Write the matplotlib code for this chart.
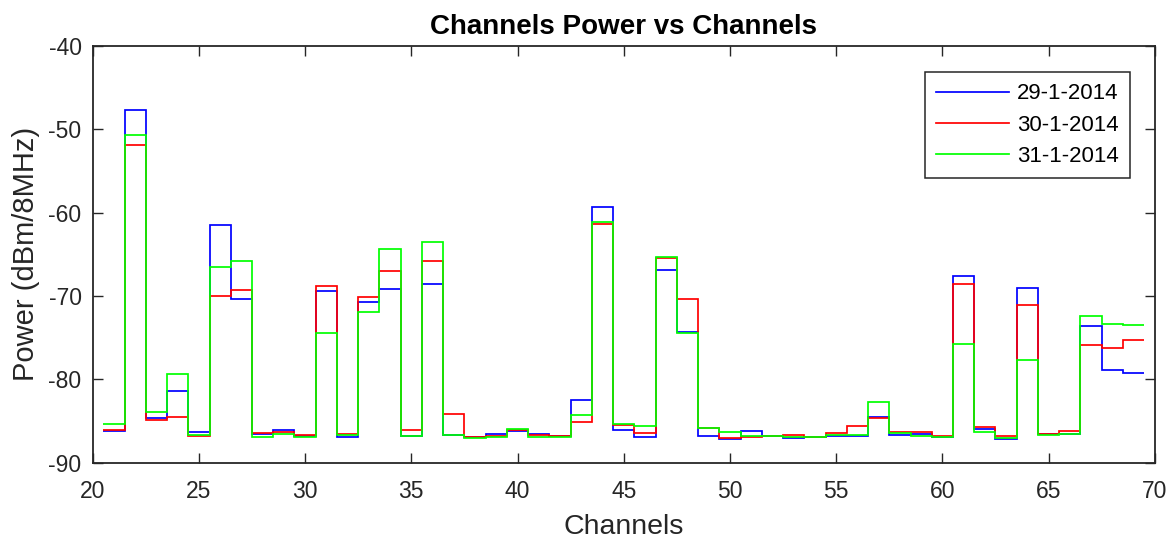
import numpy as np
import matplotlib
matplotlib.use("Agg")
import matplotlib.pyplot as plt

# Channel numbers and measured channel power (dBm/8MHz) for three days
channels = list(range(21, 70))

power_29 = [-86.16, -47.72, -84.60, -81.36, -86.28, -61.48, -70.36, -86.50, -86.08, -86.85,
            -69.40, -86.88, -70.72, -69.12, -86.80, -68.60, -86.64, -86.92, -86.52, -86.16,
            -86.52, -86.84, -82.48, -59.28, -86.08, -86.88, -66.88, -74.32, -86.76, -87.16,
            -86.24, -86.84, -87.00, -86.96, -86.80, -86.80, -84.48, -86.64, -86.50, -86.88,
            -67.60, -85.96, -87.16, -69.04, -86.60, -86.56, -73.60, -78.88, -79.20]

power_30 = [-86.08, -51.92, -84.88, -84.50, -86.78, -70.04, -69.24, -86.44, -86.28, -86.68,
            -68.84, -86.52, -70.16, -67.00, -86.04, -65.76, -84.12, -86.92, -86.84, -86.06,
            -86.68, -86.80, -85.08, -61.40, -85.48, -86.48, -65.48, -70.40, -85.88, -87.00,
            -86.88, -86.80, -86.68, -86.96, -86.48, -85.64, -84.60, -86.28, -86.36, -86.84,
            -68.52, -85.76, -86.84, -71.08, -86.52, -86.20, -75.84, -76.24, -75.28]

power_31 = [-85.36, -50.72, -83.88, -79.40, -86.72, -66.48, -65.80, -86.88, -86.56, -86.96,
            -74.48, -86.70, -71.96, -64.40, -86.76, -63.52, -86.64, -87.04, -86.92, -85.96,
            -86.96, -86.90, -84.28, -61.08, -85.36, -85.56, -65.36, -74.40, -85.80, -86.36,
            -86.80, -86.84, -86.90, -86.96, -86.68, -86.64, -82.68, -86.48, -86.76, -86.88,
            -75.80, -86.28, -87.00, -77.72, -86.64, -86.60, -72.40, -73.32, -73.52]

dates = ["29-1-2014", "30-1-2014", "31-1-2014"]
colors = ["#0000ff", "#ff0000", "#00ff00"]

x_ticks = [20, 25, 30, 35, 40, 45, 50, 55, 60, 65, 70]
y_ticks = [-90, -80, -70, -60, -50, -40]

plt.rcParams["font.family"] = ["Liberation Sans", "DejaVu Sans"]
axis_color = "#262626"

fig = plt.figure(figsize=(11.73, 5.40), dpi=100)
ax = fig.add_axes([0.079, 0.1431, 0.9055, 0.7717])

edges = np.arange(channels[0] - 0.5, channels[-1] + 1.0, 1.0)
for series, label, color in zip([power_29, power_30, power_31], dates, colors):
    ax.stairs(series, edges, baseline=None, color=color, linewidth=1.25, label=label)

ax.set_xlim(20, 70)
ax.set_ylim(-90, -40)
ax.set_xticks(x_ticks)
ax.set_yticks(y_ticks)
ax.set_xticklabels([str(t) for t in x_ticks])
ax.set_yticklabels([str(t) for t in y_ticks])

ax.tick_params(direction="in", length=7.5, width=1.0, colors=axis_color,
               labelsize=16.5, top=True, right=True, pad=8)
ax.tick_params(axis="x", pad=12.5)
for side in ax.spines.values():
    side.set_color(axis_color)
    side.set_linewidth(1.3)

ax.set_title("Channels Power vs Channels", fontsize=20, fontweight="bold", pad=9)
ax.set_xlabel("Channels", fontsize=20.5, color=axis_color, labelpad=7.5)
ax.set_ylabel("Power (dBm/8MHz)", fontsize=21, color=axis_color, labelpad=6)

leg = ax.legend(loc="upper right", bbox_to_anchor=(0.9765, 0.9369), borderaxespad=0,
                fontsize=16, handlelength=3.3, handletextpad=0.35, labelspacing=0.46,
                borderpad=0.5, fancybox=False, framealpha=1)
leg.get_frame().set_edgecolor(axis_color)
leg.get_frame().set_linewidth(1.1)

fig.savefig("out.png", dpi=100)
